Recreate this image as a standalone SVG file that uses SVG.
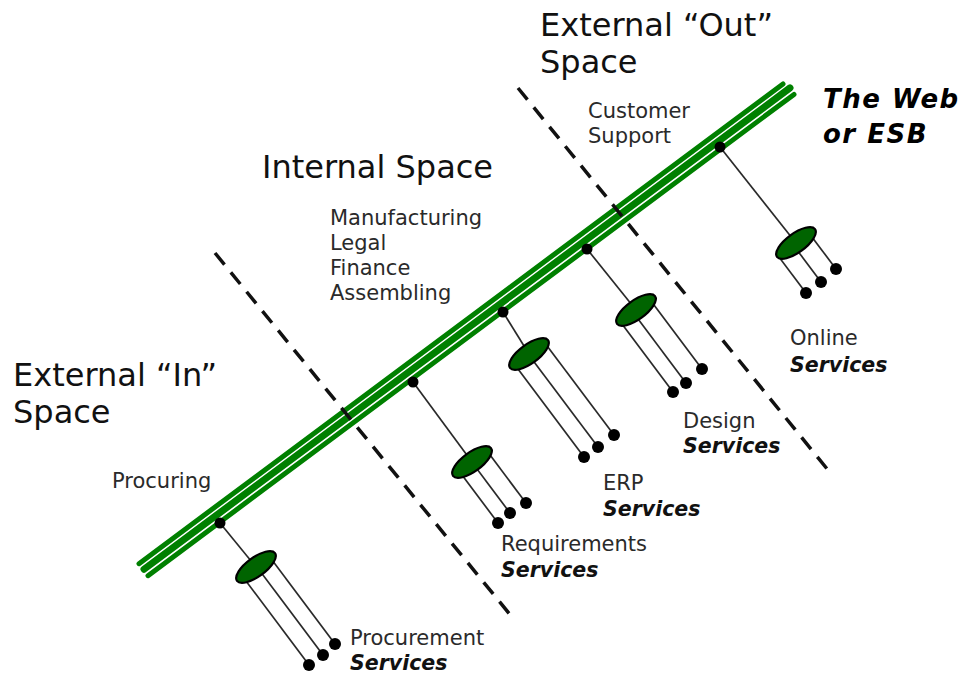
<svg xmlns="http://www.w3.org/2000/svg" width="964" height="675" viewBox="0 0 964 675">
<defs>
<style>
.big{font-family:"DejaVu Sans","Liberation Sans",sans-serif;font-size:32px;fill:#111}
.lbl{font-family:"DejaVu Sans","Liberation Sans",sans-serif;font-size:21px;fill:#2a2a2a}
.svc{font-family:"DejaVu Sans","Liberation Sans",sans-serif;font-size:20.5px;font-style:italic;font-weight:bold;fill:#111}
.web{font-family:"DejaVu Sans","Liberation Sans",sans-serif;font-size:26px;font-style:italic;font-weight:bold;fill:#000;letter-spacing:1.5px}
.band{stroke:#008000;stroke-linecap:round;fill:none}
.dash{stroke:#111;stroke-width:3.5;stroke-dasharray:15 10;fill:none}
.wire{stroke:#2a2a2a;stroke-width:1.7;fill:none}
.hub{fill:#006400;stroke:#000;stroke-width:2.2}
.dot{fill:#000}
</style>
</defs>
<rect width="964" height="675" fill="#fff"/>

<g id="bus">
<line class="band" x1="139" y1="563.7" x2="783" y2="83.9" stroke-width="5"/>
<line class="band" x1="144" y1="569.2" x2="790" y2="87.9" stroke-width="7"/>
<line class="band" x1="148" y1="575.7" x2="794" y2="94.4" stroke-width="5"/>
</g>

<g id="connectors">
<line class="wire" x1="220" y1="523" x2="256" y2="567"/>
<line class="wire" x1="243" y1="577" x2="309" y2="665"/>
<line class="wire" x1="256.6" y1="566.5" x2="323" y2="655"/>
<line class="wire" x1="269.6" y1="556.8" x2="335" y2="644"/>

<line class="wire" x1="413" y1="382" x2="472" y2="462"/>
<line class="wire" x1="459.4" y1="471.5" x2="498" y2="523"/>
<line class="wire" x1="471.8" y1="462.1" x2="510" y2="513"/>
<line class="wire" x1="486.9" y1="450.8" x2="526" y2="503"/>

<line class="wire" x1="503" y1="312" x2="529" y2="354"/>
<line class="wire" x1="514.8" y1="364.7" x2="584" y2="457"/>
<line class="wire" x1="528.5" y1="354.4" x2="598" y2="447"/>
<line class="wire" x1="544.5" y1="342.4" x2="614" y2="435"/>

<line class="wire" x1="587" y1="249" x2="636" y2="310"/>
<line class="wire" x1="620.3" y1="321.8" x2="673" y2="392"/>
<line class="wire" x1="633" y1="312.3" x2="686" y2="383"/>
<line class="wire" x1="649.9" y1="299.6" x2="702" y2="369"/>

<line class="wire" x1="720" y1="147" x2="796" y2="243"/>
<line class="wire" x1="778.4" y1="256.2" x2="806" y2="293"/>
<line class="wire" x1="793.3" y1="245" x2="821" y2="282"/>
<line class="wire" x1="809.1" y1="233.2" x2="836" y2="269"/>
</g>

<g id="boundaries">
<line class="dash" x1="215" y1="253" x2="512" y2="617"/>
<line class="dash" x1="518" y1="88" x2="828" y2="470"/>
</g>

<g id="procurement">
<circle class="dot" cx="220" cy="523" r="5.5"/>
<ellipse class="hub" cx="256" cy="567" rx="23.5" ry="9.5" transform="rotate(-36 256 567)"/>
<circle class="dot" cx="309" cy="665" r="6"/>
<circle class="dot" cx="323" cy="655" r="6"/>
<circle class="dot" cx="335" cy="644" r="6"/>
</g>
<g id="requirements">
<circle class="dot" cx="413" cy="382" r="5.5"/>
<ellipse class="hub" cx="472" cy="462" rx="23.5" ry="9.5" transform="rotate(-36 472 462)"/>
<circle class="dot" cx="498" cy="523" r="6"/>
<circle class="dot" cx="510" cy="513" r="6"/>
<circle class="dot" cx="526" cy="503" r="6"/>
</g>
<g id="erp">
<circle class="dot" cx="503" cy="312" r="5.5"/>
<ellipse class="hub" cx="529" cy="354" rx="23.5" ry="9.5" transform="rotate(-36 529 354)"/>
<circle class="dot" cx="584" cy="457" r="6"/>
<circle class="dot" cx="598" cy="447" r="6"/>
<circle class="dot" cx="614" cy="435" r="6"/>
</g>
<g id="design">
<circle class="dot" cx="587" cy="249" r="5.5"/>
<ellipse class="hub" cx="636" cy="310" rx="23.5" ry="9.5" transform="rotate(-36 636 310)"/>
<circle class="dot" cx="673" cy="392" r="6"/>
<circle class="dot" cx="686" cy="383" r="6"/>
<circle class="dot" cx="702" cy="369" r="6"/>
</g>
<g id="online">
<circle class="dot" cx="720" cy="147" r="5.5"/>
<ellipse class="hub" cx="796" cy="243" rx="23.5" ry="9.5" transform="rotate(-36 796 243)"/>
<circle class="dot" cx="806" cy="293" r="6"/>
<circle class="dot" cx="821" cy="282" r="6"/>
<circle class="dot" cx="836" cy="269" r="6"/>
</g>

<g id="labels">
<text class="big" x="540" y="36">External “Out”</text>
<text class="big" x="540" y="73">Space</text>
<text class="big" x="262" y="178">Internal Space</text>
<text class="big" x="13" y="386">External “In”</text>
<text class="big" x="13" y="423">Space</text>
<text class="web" x="823" y="108">The Web</text>
<text class="web" x="823" y="143">or ESB</text>
<text class="lbl" x="588" y="118">Customer</text>
<text class="lbl" x="588" y="143">Support</text>
<text class="lbl" x="330" y="225">Manufacturing</text>
<text class="lbl" x="330" y="250">Legal</text>
<text class="lbl" x="330" y="275">Finance</text>
<text class="lbl" x="330" y="300">Assembling</text>
<text class="lbl" x="112" y="488">Procuring</text>
<text class="lbl" x="790" y="345">Online</text>
<text class="svc" x="790" y="372">Services</text>
<text class="lbl" x="683" y="428">Design</text>
<text class="svc" x="683" y="453">Services</text>
<text class="lbl" x="603" y="490">ERP</text>
<text class="svc" x="603" y="516">Services</text>
<text class="lbl" x="501" y="551">Requirements</text>
<text class="svc" x="501" y="577">Services</text>
<text class="lbl" x="350" y="645">Procurement</text>
<text class="svc" x="350" y="670">Services</text>
</g>
</svg>
